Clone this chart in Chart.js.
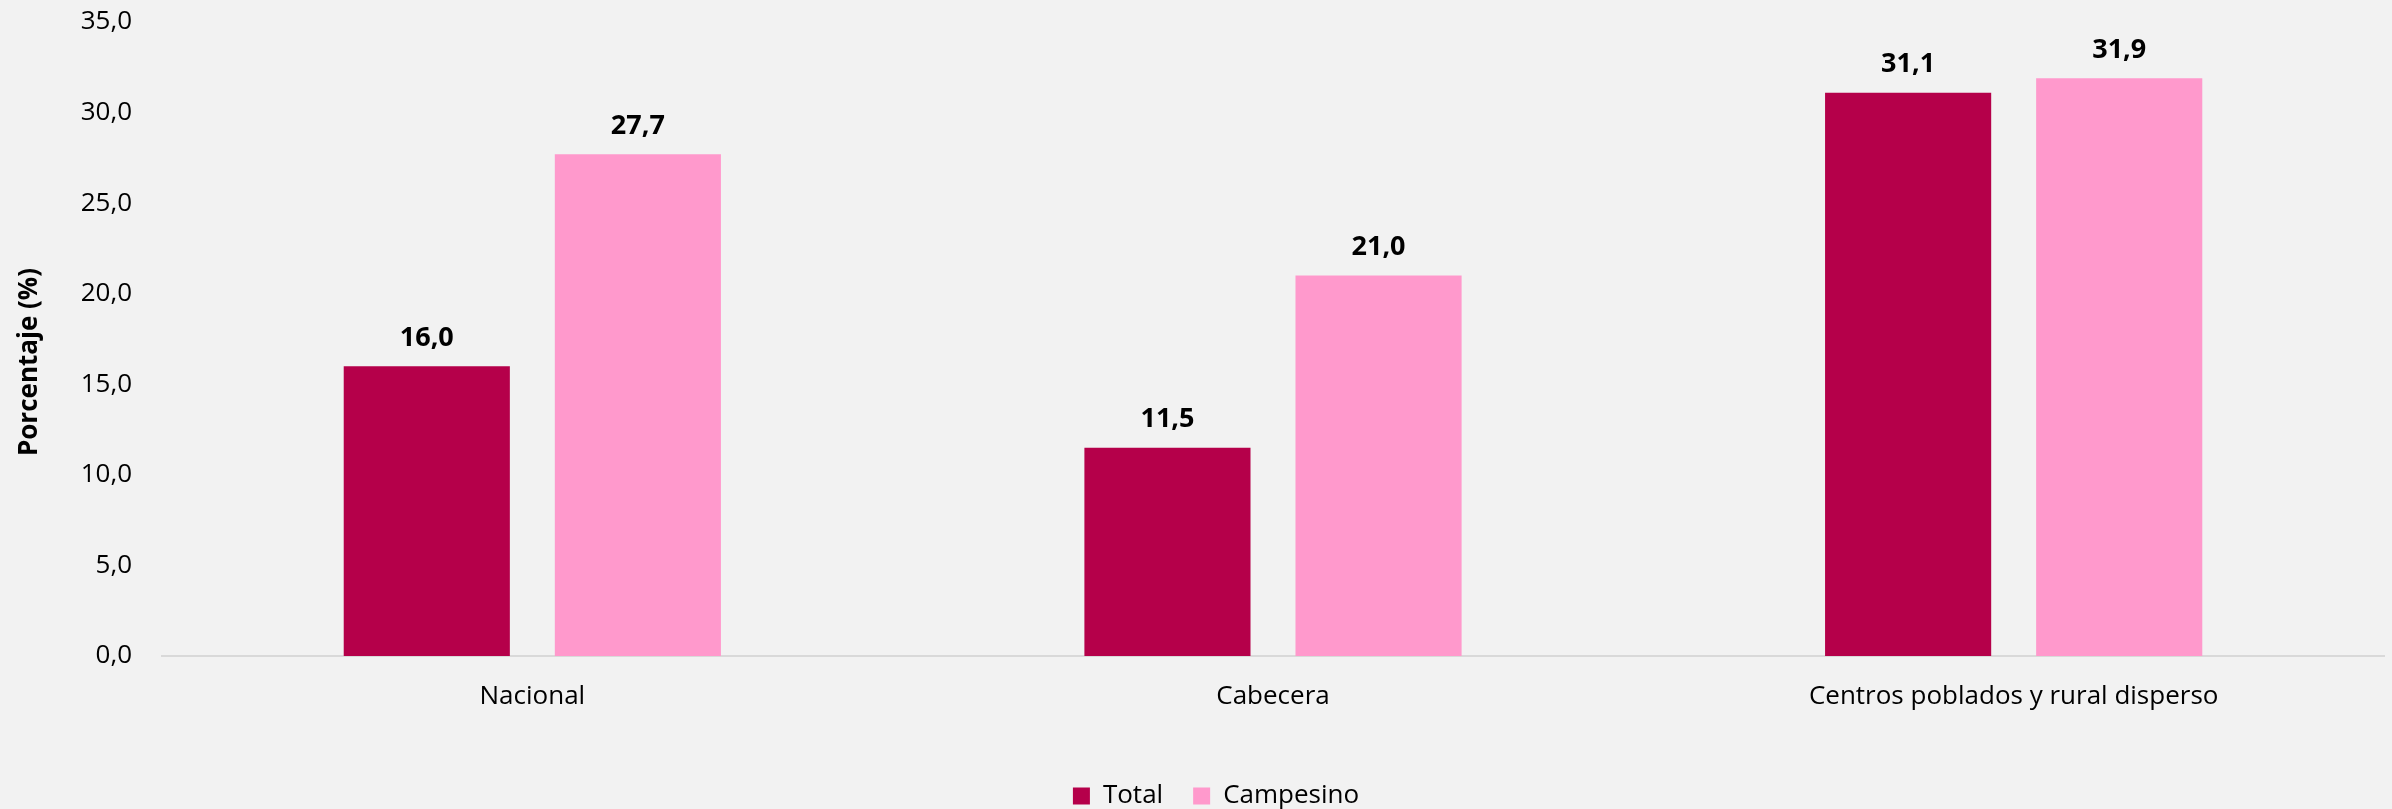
<!DOCTYPE html>
<html>
<head>
<meta charset="utf-8">
<script src="https://cdn.jsdelivr.net/npm/chart.js@4.4.1/dist/chart.umd.min.js"></script>
<style>
html,body{margin:0;padding:0;background:#F2F2F2;}
#wrap{width:2392px;height:809px;position:relative;}
</style>
</head>
<body>
<div id="wrap"><canvas id="c"></canvas></div>
<script>
const categories = ["Nacional", "Cabecera", "Centros poblados y rural disperso"];
const totalValues = [16.0, 11.5, 31.1];
const campesinoValues = [27.7, 21.0, 31.9];
const seriesNames = ["Total", "Campesino"];
const yAxisTitle = "Porcentaje (%)";
const yTicks = { min: 0, max: 35, step: 5 };

const FONT = "'Open Sans', 'Noto Sans', sans-serif";
const fmt = v => Number(v).toFixed(1).replace('.', ',');

const bgPlugin = {
  id: 'bg',
  beforeDraw(chart) {
    const ctx = chart.ctx;
    ctx.save();
    ctx.fillStyle = '#F2F2F2';
    ctx.fillRect(0, 0, chart.width, chart.height);
    ctx.restore();
  }
};

const labelPlugin = {
  id: 'barLabels',
  afterDatasetsDraw(chart) {
    const ctx = chart.ctx;
    ctx.save();
    ctx.font = "bold 27px " + FONT;
    ctx.fillStyle = '#000';
    ctx.textAlign = 'center';
    ctx.textBaseline = 'middle';
    chart.data.datasets.forEach((ds, i) => {
      const meta = chart.getDatasetMeta(i);
      meta.data.forEach((el, j) => {
        ctx.fillText(fmt(ds.data[j]), el.x, el.y - 28);
      });
    });
    ctx.restore();
  }
};

const yTitlePlugin = {
  id: 'yTitle',
  afterDraw(chart) {
    const ctx = chart.ctx;
    const a = chart.chartArea;
    ctx.save();
    ctx.font = "bold 26px " + FONT;
    ctx.fillStyle = '#000';
    ctx.textAlign = 'center';
    ctx.textBaseline = 'middle';
    ctx.translate(30, (a.top + a.bottom) / 2 + 23);
    ctx.rotate(-Math.PI / 2);
    ctx.fillText(yAxisTitle, 0, 0);
    ctx.restore();
  }
};

new Chart(document.getElementById('c'), {
  type: 'bar',
  data: {
    labels: categories,
    datasets: [
      { label: seriesNames[0], data: totalValues, backgroundColor: '#B5004A', borderWidth: 0 },
      { label: seriesNames[1], data: campesinoValues, backgroundColor: '#FF99CC', borderWidth: 0 }
    ]
  },
  options: {
    responsive: true,
    maintainAspectRatio: false,
    animation: false,
    datasets: { bar: { categoryPercentage: 0.570, barPercentage: 0.787 } },
    layout: { padding: { top: 22, right: 8, left: 48, bottom: -10 } },
    plugins: {
      tooltip: { enabled: false },
      legend: {
        position: 'bottom',
        labels: {
          font: { family: FONT, size: 26 },
          color: '#000',
          boxWidth: 17,
          boxHeight: 17,
          padding: 30
        }
      }
    },
    scales: {
      x: {
        grid: { display: false, drawTicks: false },
        border: { display: true, color: '#D9D9D9', width: 2 },
        ticks: { font: { family: FONT, size: 26 }, color: '#000', padding: 25, maxRotation: 0 },
        afterFit(s) { s.height = 97; }
      },
      y: {
        min: yTicks.min, max: yTicks.max,
        grid: { display: false, drawTicks: false },
        border: { display: false },
        ticks: {
          stepSize: yTicks.step,
          font: { family: FONT, size: 26 },
          color: '#000',
          padding: 30,
          callback: v => fmt(v)
        },
        afterFit(s) { s.width = 114; s.paddingTop = 0; s.paddingBottom = 0; }
      }
    }
  },
  plugins: [bgPlugin, labelPlugin, yTitlePlugin]
});
</script>
</body>
</html>
